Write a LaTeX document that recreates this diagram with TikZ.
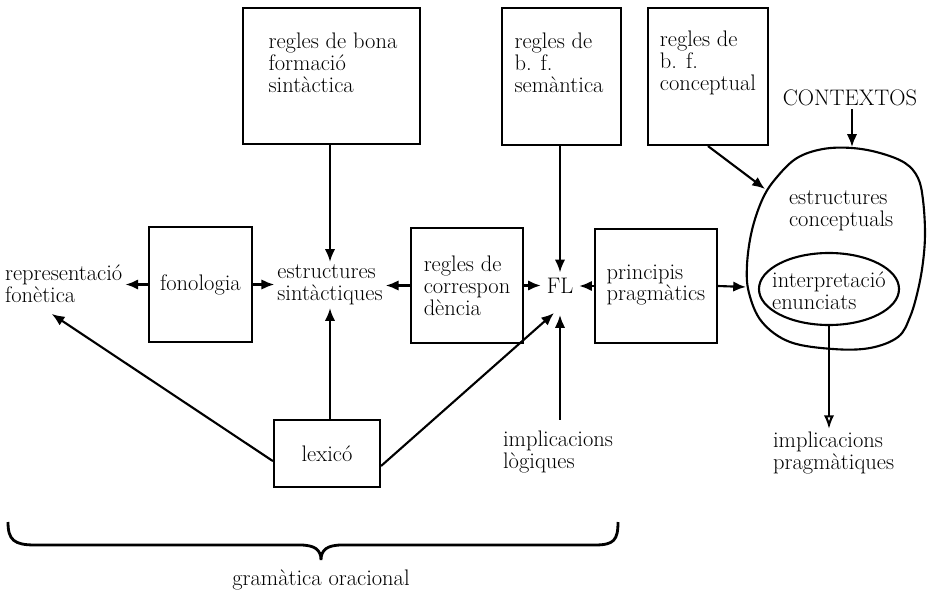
\documentclass[tikz,border=0pt]{standalone}
\usetikzlibrary{arrows.meta,calc,shapes.geometric}
\begin{document}
\begin{tikzpicture}[x=0.025cm,y=-0.025cm,
  font=\fontsize{16}{15.5}\selectfont,
  box/.style={draw, line width=1.5pt, inner sep=0pt},
  lbl/.style={align=left, inner sep=2pt},
  ln/.style={line width=1.5pt},
  arr/.style={line width=1.5pt, -{Latex[length=3.2mm,width=2.6mm]}},
  oarr/.style={line width=1.5pt, -{Latex[open,length=3.4mm,width=2.6mm]}}]
\useasboundingbox (0,0) rectangle (928,592);
% top boxes
\node[box, minimum width=4.425cm, minimum height=3.4cm] (bona) at (331.5,76) {};
\node[lbl] (bonaT) at (333,63) {regles de bona\\formació\\sintàctica};
\node[box, minimum width=2.975cm, minimum height=3.425cm] (sem) at (561.5,76.5) {};
\node[lbl] (semT) at (559,63) {regles de\\b. f.\\semàntica};
\node[box, minimum width=3cm, minimum height=3.425cm] (conc) at (708,76.5) {};
\node[lbl] (concT) at (708,63) {regles de\\b. f.\\conceptual};
\node[lbl] (ctx) at (850,98) {CONTEXTOS};
% middle row
\node[box, minimum width=2.575cm, minimum height=2.875cm] (fon) at (200.5,284.5) {};
\node[lbl] (fonT) at (200.5,284.5) {fonologia};
\node[box, minimum width=2.8cm, minimum height=2.875cm] (corr) at (467,285.5) {};
\node[lbl] (corrT) at (467,285.5) {regles de\\correspon\\dència};
\node[box, minimum width=3.05cm, minimum height=2.85cm] (princ) at (656,286) {};
\node[lbl] (princT) at (656,285) {principis\\pragmàtics};
\node[lbl, anchor=west] (rep) at (2,284) {representació\\fonètica};
\node[lbl] (estr) at (330,285) {estructures\\sintàctiques};
\node[inner sep=4pt] (FL) at (560,286) {FL};
\coordinate (FLb) at (560,315);
\coordinate (FLbl) at (554,313);
% lexico
\node[box, minimum width=2.65cm, minimum height=1.675cm] (lex) at (327,453.5) {};
\node[lbl] (lexT) at (327,453.5) {lexicó};
\node[lbl, anchor=west] (implog) at (500,452) {implicacions\\lògiques};
% conceptual blob
\draw[ln] plot[smooth cycle, tension=0.6] coordinates {(852,148) (880,153) (905,163) (918,178) (923,200) (925,233) (923,262) (918,290) (910,317) (898,337) (870,348) (833,349) (790,342) (762,322) (749,293) (747,265) (752,230) (763,198) (777,177) (797,158) (823,149)};
\coordinate (blobT) at (852,147);
\coordinate (blobNW) at (765,189);
\coordinate (blobL) at (746,287);
\node[lbl, anchor=west] (estc) at (786,211) {estructures\\conceptuals};
\node[draw, ellipse, line width=1.5pt, minimum width=3.5cm, minimum height=1.8cm, inner sep=0pt] (interp) at (829,289) {};
\node[lbl] (interpT) at (829,291) {interpretació\\enunciats};
\node[lbl, anchor=west] (implprag) at (770,453) {implicacions\\pragmàtiques};
% connectors
\draw[arr] (fon.west) -- (rep.east |- fon.west);
\draw[arr] (fon.east) -- (estr.west |- fon.east);
\draw[arr] (corr.west) -- (estr.east |- corr.west);
\draw[arr] (bona.south -| estr.north) -- (estr.north);
\draw[arr] (lex.north -| estr.south) -- (estr.south);
\draw[arr] (lex.188) -- ($(rep.south)+(-12,8)$);
\draw[arr] (lex.-13) -- (FLbl);
\draw[arr] (sem.south -| FL.north) -- (FL.north);
\draw[arr] (implog.north -| FLb) ++(0,-8) -- (FLb);
\draw[arr] (corr.east) -- (FL.west |- corr.east);
\draw[arr] (princ.west) -- (FL.east |- princ.west);
\draw[arr] (princ.east) -- (blobL);
\draw[arr] (conc.south) -- (blobNW);
\draw[arr] (ctx.south -| blobT) -- (blobT);
\draw[oarr] (interp.south) -- (interp.south |- implprag.north);
% brace
\draw[line width=2pt] (8,522) .. controls (8,540) and (14,545) .. (35,545) -- (300,545) .. controls (315,545) and (321,550) .. (321,560) .. controls (321,550) and (327,545) .. (342,545) -- (595,545) .. controls (614,545) and (618,540) .. (618,522);
\node[lbl] (gram) at (321,580) {gramàtica oracional};
\end{tikzpicture}
\end{document}
